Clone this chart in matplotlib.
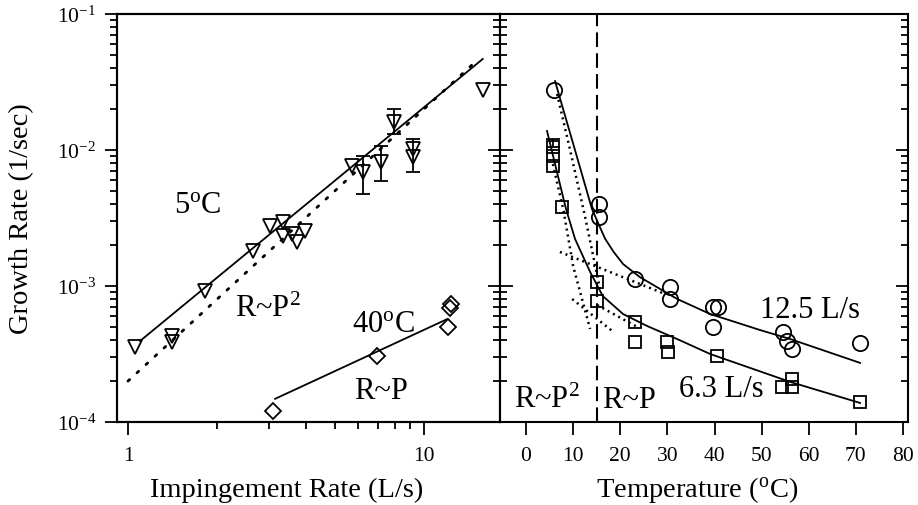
import numpy as np
import matplotlib
matplotlib.use("Agg")
import matplotlib.pyplot as plt
from matplotlib.ticker import LogLocator, NullFormatter, FixedLocator, FuncFormatter, MultipleLocator

plt.rcParams['font.family'] = ['Liberation Serif', 'DejaVu Serif']
plt.rcParams['mathtext.fontset'] = 'custom'
plt.rcParams['mathtext.rm'] = 'Liberation Serif'
plt.rcParams['mathtext.it'] = 'Liberation Serif:italic'
plt.rcParams['mathtext.bf'] = 'Liberation Serif:bold'

# ---------------- Left panel data: growth rate vs impingement rate ----------------
p5 = [1.056, 1.41, 1.41, 1.82, 2.64, 3.02, 3.34, 3.34, 3.58, 3.72, 3.96,
      5.71, 6.22, 7.16, 7.92, 9.18, 9.18, 15.8]
r5 = [3.56e-4, 3.87e-4, 4.3e-4, 9.2e-4, 1.81e-3, 2.76e-3, 2.96e-3, 2.33e-3,
      2.41e-3, 2.11e-3, 2.54e-3, 7.6e-3, 6.9e-3, 8.2e-3, 1.61e-2, 1.02e-2,
      8.9e-3, 2.76e-2]
err5_p = [6.22, 7.16, 7.92, 9.18]
err5_r = [6.9e-3, 8.2e-3, 1.61e-2, 8.9e-3]
err5_lo = [4.75e-3, 5.9e-3, 1.31e-2, 6.9e-3]
err5_hi = [9.0e-3, 1.07e-2, 2.0e-2, 1.2e-2]
fit5_p = [1.098, 15.8]
fit5_r = [3.94e-4, 4.67e-2]
sq5_p = [1.0, 15.0]
sq5_r = [2.0e-4, 4.5e-2]

p40 = [3.09, 6.94, 12.3, 12.2, 12.1]
r40 = [1.2e-4, 3.06e-4, 7.4e-4, 6.9e-4, 5.0e-4]
fit40_p = [3.14, 11.96]
fit40_r = [1.48e-4, 5.7e-4]

# ---------------- Right panel data: growth rate vs temperature ----------------
T125 = [5.9, 15.5, 15.5, 23.1, 30.6, 30.6, 39.7, 40.8, 39.7, 54.6, 55.4, 56.5, 70.9]
r125 = [2.76e-2, 4.0e-3, 3.2e-3, 1.12e-3, 9.9e-4, 8.0e-4, 7.0e-4, 7.0e-4,
        5.0e-4, 4.6e-4, 3.94e-4, 3.44e-4, 3.81e-4]
T63 = [5.7, 5.7, 5.7, 7.6, 15.1, 15.1, 23.1, 23.1, 29.9, 30.1, 40.6,
       54.4, 56.5, 56.5, 70.9]
r63 = [1.05e-2, 9.0e-3, 7.6e-3, 3.81e-3, 1.07e-3, 7.8e-4, 5.4e-4, 3.87e-4,
       3.87e-4, 3.27e-4, 3.05e-4, 1.81e-4, 2.07e-4, 1.81e-4, 1.40e-4]
err63_T = [5.7]
err63_r = [1.05e-2]
err63_hi = [1.2e-2]

fit125_T = [6.16, 9.98, 14.0, 15.4, 16.8, 18.6, 20.6, 24.2, 32.1, 39.1, 49.7, 56.1, 70.9]
fit125_r = [3.21e-2, 1.12e-2, 3.68e-3, 2.85e-3, 2.22e-3, 1.78e-3, 1.45e-3, 1.16e-3,
            8.02e-4, 6.22e-4, 4.74e-4, 4.07e-4, 2.72e-4]
fit63_T = [4.46, 6.16, 8.49, 10.4, 13.6, 16.3, 20.6, 25.7, 32.1, 39.1, 56.1, 70.9]
fit63_r = [1.38e-2, 7.88e-3, 3.68e-3, 2.22e-3, 1.27e-3, 8.43e-4, 6.22e-4,
           5.08e-4, 4.07e-4, 3.16e-4, 1.97e-4, 1.38e-4]

# dotted asymptotes
dA_T = [6.6, 9.3, 12.5, 15.7]
dA_r = [2.58e-2, 1.02e-2, 3.27e-3, 9.5e-4]
dB_T = [7.2, 29.5]
dB_r = [1.78e-3, 8.73e-4]
dC_T = [5.7, 7.9, 10.0, 13.6]
dC_r = [7.88e-3, 3.68e-3, 1.40e-3, 4.83e-4]
dD1_T = [9.8, 18.3]
dD1_r = [8.02e-4, 4.67e-4]
dD2_T = [15.1, 23.6]
dD2_r = [7.24e-4, 5.0e-4]
T_transition = 15.0

# ---------------- figure ----------------
W, H = 918, 506
fig = plt.figure(figsize=(W / 100, H / 100), dpi=100)


def fa(x0, y0, x1, y1):
    return [x0 / W, 1 - y1 / H, (x1 - x0) / W, (y1 - y0) / H]


ax1 = fig.add_axes(fa(117, 15, 500, 423))
ax2 = fig.add_axes(fa(500, 15, 908, 423))

ylo, yhi = 1e-4, 1e-1
ytick_fmt = FuncFormatter(lambda v, pos: r'$\mathregular{10^{%d}}$' % int(round(np.log10(v))))
TL = 15.5

# ---- left axes
ax1.set_xscale('log')
ax1.set_yscale('log')
ax1.set_xlim(0.918, 18.07)
ax1.set_ylim(ylo, yhi)
ax1.xaxis.set_major_locator(FixedLocator([1, 10]))
ax1.xaxis.set_major_formatter(FuncFormatter(lambda v, pos: '%d' % round(v)))
ax1.xaxis.set_minor_locator(LogLocator(base=10, subs=np.arange(2, 10)))
ax1.xaxis.set_minor_formatter(NullFormatter())
ax1.yaxis.set_major_locator(LogLocator(base=10, numticks=10))
ax1.yaxis.set_major_formatter(ytick_fmt)
ax1.yaxis.set_minor_locator(LogLocator(base=10, subs=np.arange(2, 10), numticks=10))
ax1.yaxis.set_minor_formatter(NullFormatter())
ax1.tick_params(which='both', direction='out', left=True, right=False, top=False,
                bottom=True, labelsize=TL, width=1.3)
ax1.tick_params(which='major', length=9)
ax1.tick_params(which='minor', length=5)
ax1.tick_params(axis='y', which='major', pad=6)
ax1.tick_params(axis='x', which='major', pad=8)

ax1r = ax1.twinx()
ax1r.set_yscale('log')
ax1r.set_ylim(ylo, yhi)
ax1r.yaxis.set_major_locator(LogLocator(base=10, numticks=10))
ax1r.yaxis.set_minor_locator(LogLocator(base=10, subs=np.arange(2, 10), numticks=10))
ax1r.yaxis.set_minor_formatter(NullFormatter())
ax1r.tick_params(axis='y', which='both', direction='in', right=True, labelright=False, width=1.3)
ax1r.tick_params(axis='y', which='major', length=9)
ax1r.tick_params(axis='y', which='minor', length=5)

# ---- right axes
ax2.set_yscale('log')
ax2.set_xlim(-5.52, 81.06)
ax2.set_ylim(ylo, yhi)
ax2.xaxis.set_major_locator(MultipleLocator(10))
ax2.yaxis.set_major_locator(LogLocator(base=10, numticks=10))
ax2.yaxis.set_minor_locator(LogLocator(base=10, subs=np.arange(2, 10), numticks=10))
ax2.yaxis.set_minor_formatter(NullFormatter())
ax2.tick_params(axis='y', which='both', direction='in', left=True, right=True,
                labelleft=False, labelright=False, width=1.3)
ax2.tick_params(axis='y', which='major', length=9)
ax2.tick_params(axis='y', which='minor', length=5)
ax2.tick_params(axis='x', which='major', direction='out', length=9, width=1.3,
                labelsize=TL, pad=8, top=False)

for a in (ax1, ax2, ax1r):
    for s in a.spines.values():
        s.set_linewidth(1.5)

# ---- left plot marks
ax1.plot(fit5_p, fit5_r, color='black', lw=1.3)
ax1.plot(sq5_p, sq5_r, color='black', lw=2.0, linestyle=(0, (0.8, 3.6)),
         dash_capstyle='round')
ax1.errorbar(err5_p, err5_r,
             yerr=[np.array(err5_r) - np.array(err5_lo), np.array(err5_hi) - np.array(err5_r)],
             fmt='none', ecolor='black', elinewidth=1.3, capsize=5, capthick=1.3)
ax1.plot(p5, r5, linestyle='none', marker='v', ms=10, mfc='none', mec='black', mew=1.3)
ax1.plot(fit40_p, fit40_r, color='black', lw=1.3)
ax1.plot(p40, r40, linestyle='none', marker='D', ms=8.5, mfc='none', mec='black', mew=1.3)

# ---- right plot marks
ax2.axvline(T_transition, color='black', lw=1.5, linestyle=(0, (7, 3)))
ax2.plot(fit125_T, fit125_r, color='black', lw=1.3, solid_joinstyle='round')
ax2.plot(fit63_T, fit63_r, color='black', lw=1.3, solid_joinstyle='round')
for tx, ry in ((dA_T, dA_r), (dB_T, dB_r), (dC_T, dC_r), (dD1_T, dD1_r), (dD2_T, dD2_r)):
    ax2.plot(tx, ry, color='black', lw=1.8, linestyle=(0, (0.8, 1.6)))
ax2.errorbar(err63_T, err63_r, yerr=[[0], np.array(err63_hi) - np.array(err63_r)],
             fmt='none', ecolor='black', elinewidth=1.3, capsize=5, capthick=1.3)
ax2.plot(T125, r125, linestyle='none', marker='o', ms=11, mfc='none', mec='black', mew=1.3)
ax2.plot(T63, r63, linestyle='none', marker='s', ms=9, mfc='none', mec='black', mew=1.3)


# ---- text
def ftext(px, py, s, size=22, **kw):
    fig.text(px / W, 1 - py / H, s, fontsize=size, ha='center', va='baseline', **kw)


ftext(198, 213, r'5$^\mathrm{o}$C')
ftext(268, 317, r'R~P$^2$')
ftext(383, 332, r'40$^\mathrm{o}$C')
ftext(381, 399, 'R~P')
ftext(547, 408, r'R~P$^2$')
ftext(629, 408, 'R~P')
ftext(810, 318, '12.5 L/s')
ftext(721, 397, '6.3 L/s')

ftext(287, 497, 'Impingement Rate (L/s)', size=20.5)
ftext(697, 497, r'Temperature ($^\mathrm{o}$C)', size=20.5)
fig.text(22 / W, 1 - 219 / H, 'Growth Rate (1/sec)', fontsize=20.5, rotation=90,
         ha='center', va='center')

fig.savefig('out.png', dpi=100, facecolor='white')
